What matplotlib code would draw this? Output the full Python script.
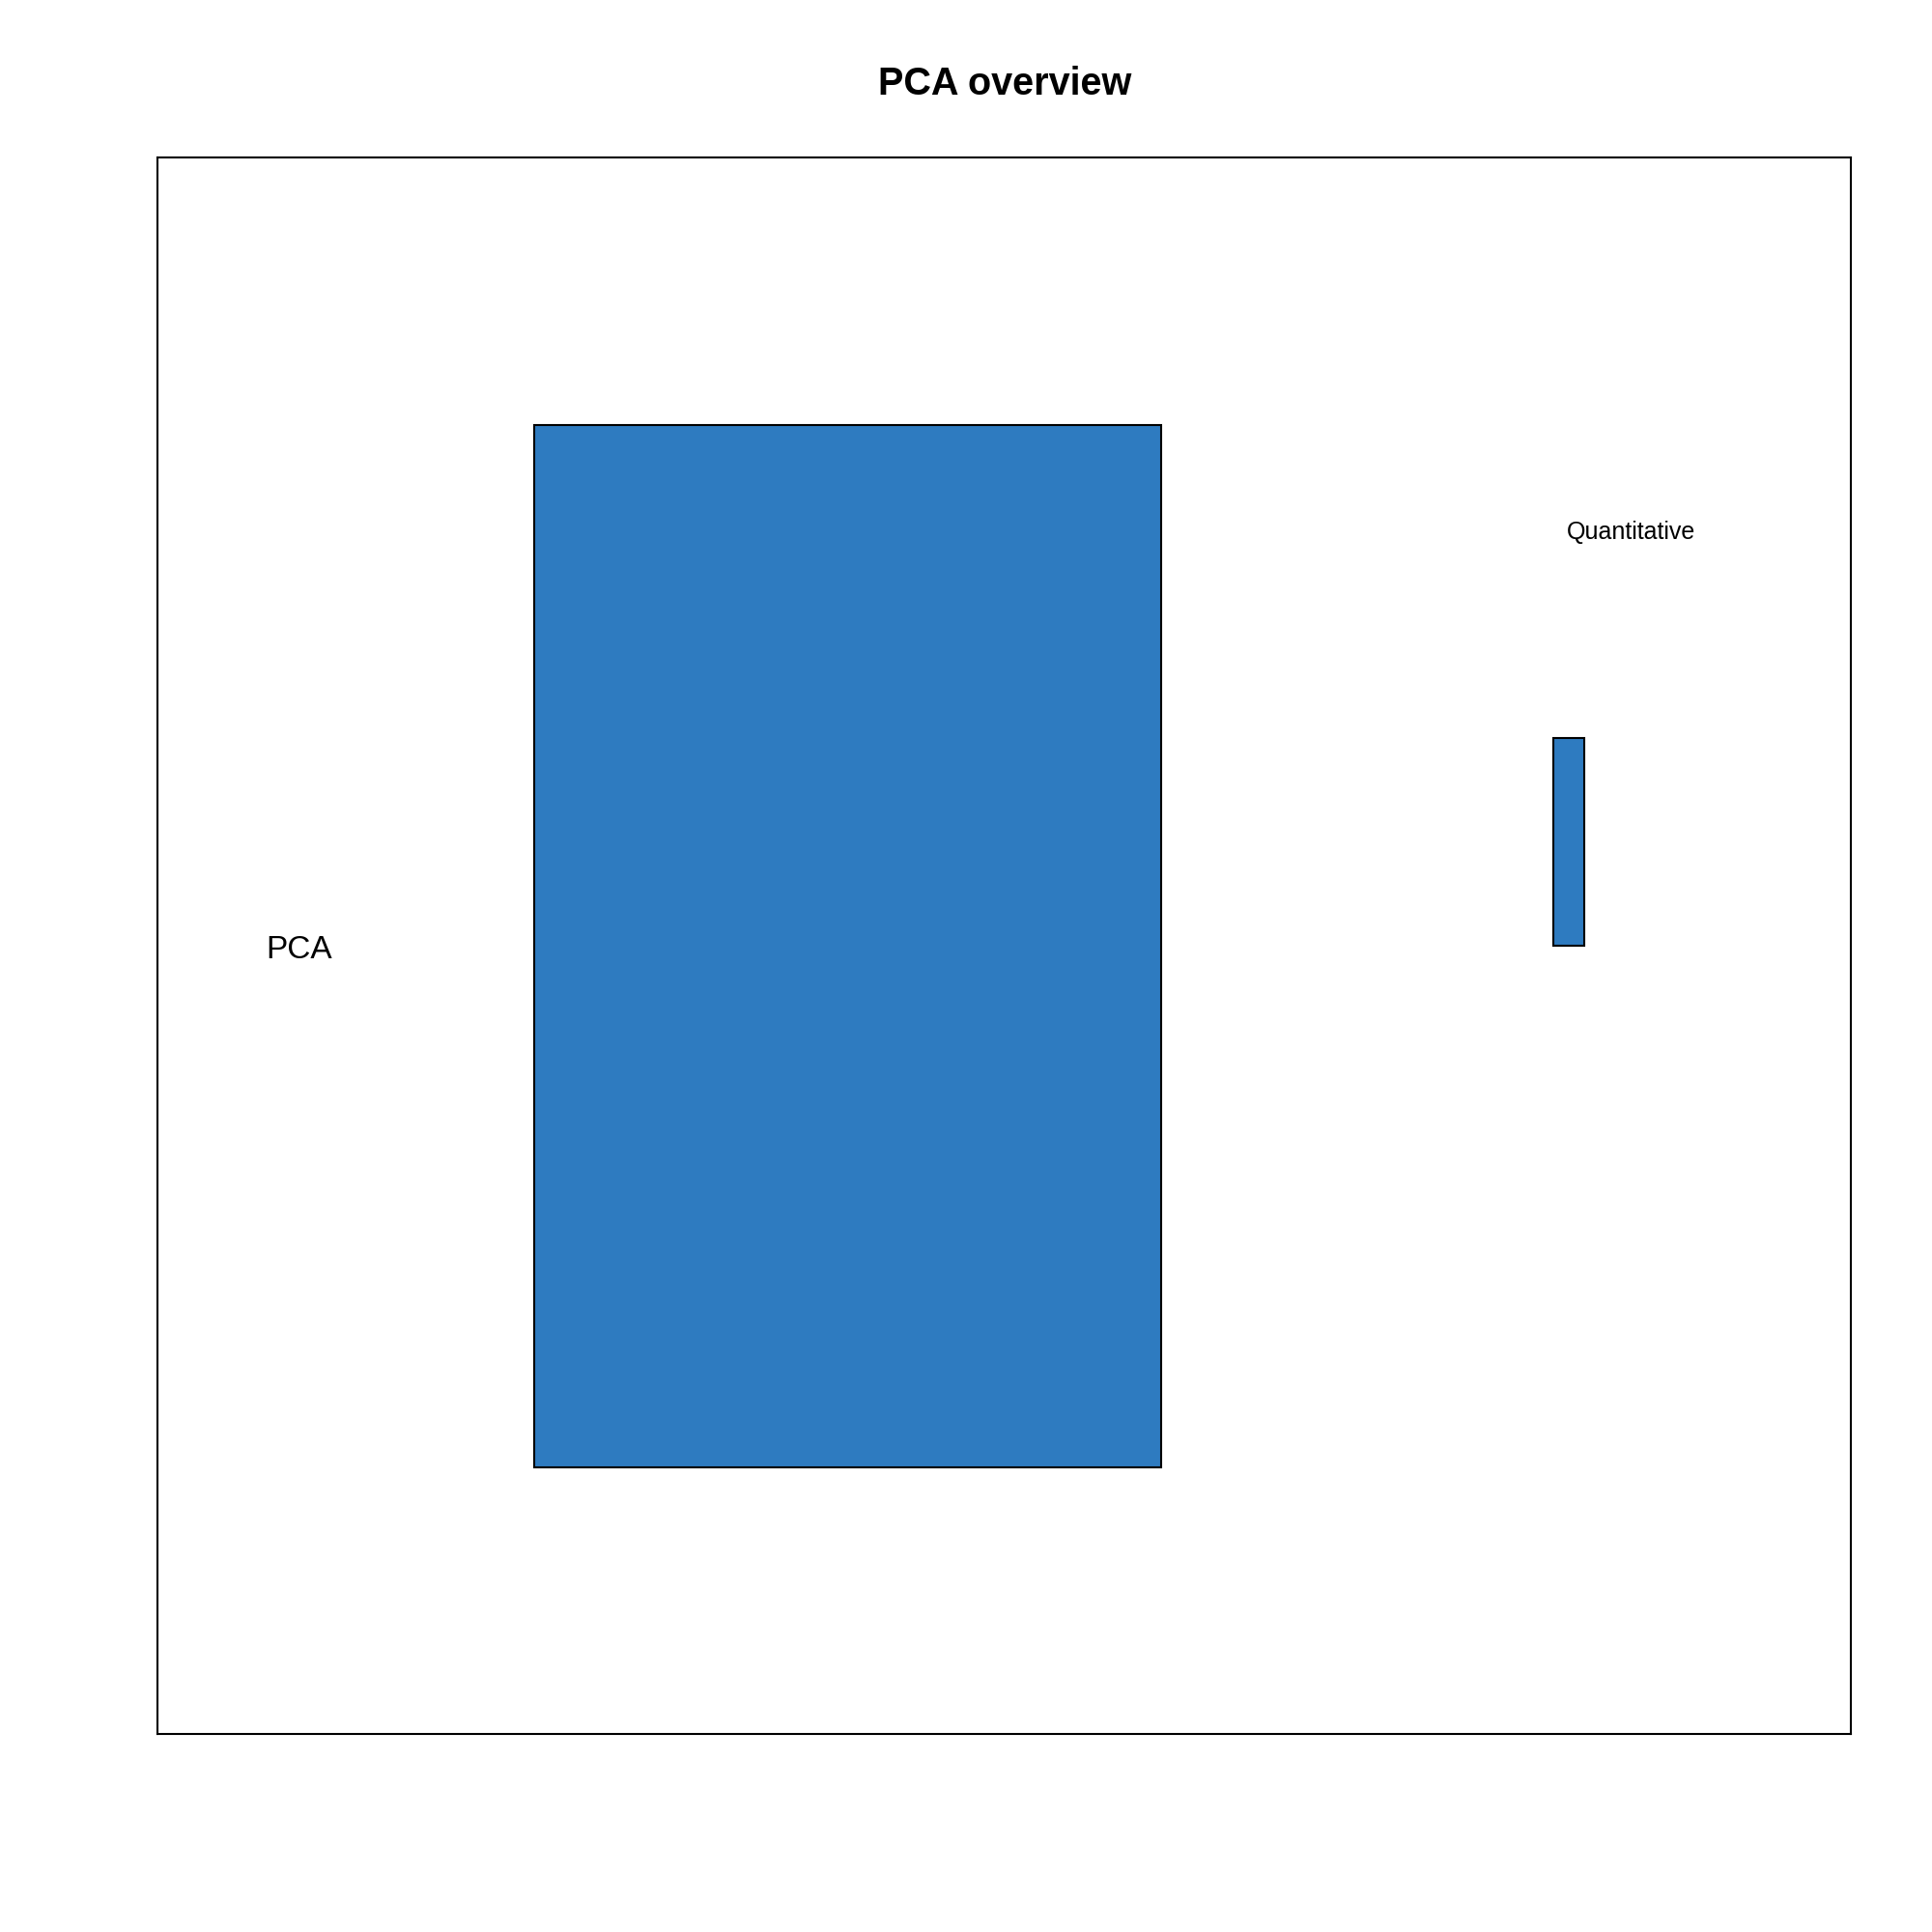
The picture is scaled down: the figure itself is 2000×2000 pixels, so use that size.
import matplotlib.pyplot as plt

# overview blocks (data units, 0..1 layout like the R plot)
groups = ["PCA", "Quantitative"]
block_x0 = [0.20, 0.85]
block_x1 = [0.60, 0.87]
block_y0 = [1 / 7, 0.50]
block_y1 = [0.8565, 0.642]
label_x = [0.05, 0.90]
label_y = [0.497, 0.783]
label_size = [24, 18]

plt.rcParams['font.family'] = ['Liberation Sans', 'DejaVu Sans']

fig = plt.figure(figsize=(20, 20), dpi=100)
ax = fig.add_axes([0.0815, 0.1025, 0.8765, 0.816])

for x0, x1, y0, y1 in zip(block_x0, block_x1, block_y0, block_y1):
    ax.bar(x0, y1 - y0, width=x1 - x0, bottom=y0, align='edge',
           color='#2E7BC0', edgecolor='black', linewidth=1.5)

for name, x, y, s in zip(groups, label_x, label_y, label_size):
    ax.text(x, y, name, ha='center', va='center', fontsize=s)

ax.set_xlim(-0.04, 1.04)
ax.set_ylim(-0.04, 1.04)
ax.set_xticks([])
ax.set_yticks([])
for sp in ax.spines.values():
    sp.set_linewidth(1.5)

fig.text(0.52, 1 - 87 / 2000, "PCA overview", ha='center', va='center',
         fontsize=28.5, fontweight='bold')

plt.savefig("out.png", dpi=100)
